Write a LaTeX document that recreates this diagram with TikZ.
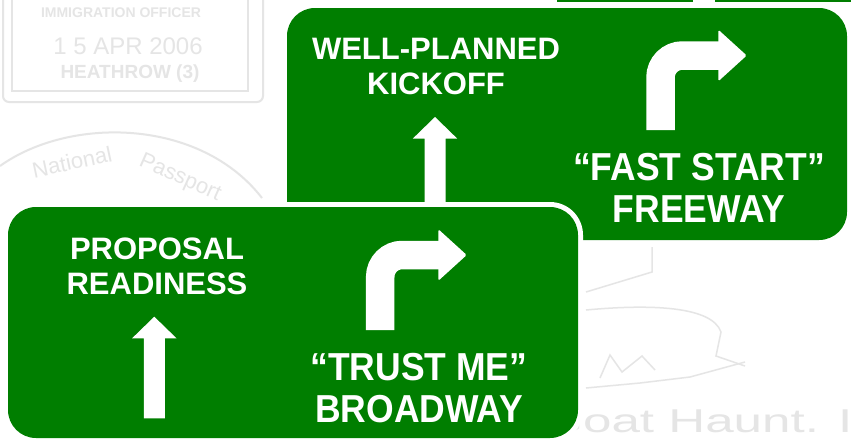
\documentclass[tikz,border=0pt]{standalone}
\usepackage{fontspec}
\setmainfont{Liberation Sans}
\newfontfamily\signnarrow{Liberation Sans}[FakeStretch=0.91]
\definecolor{signgreen}{RGB}{0,126,0}
\definecolor{stampgray}{RGB}{229,229,229}
\tikzset{
  signbody/.style={fill=signgreen, rounded corners=28pt},
  signrim/.style={fill=white, rounded corners=33pt},
  leftlabel/.style={text=white, align=center, inner sep=0pt,
    font=\fontsize{31}{35}\selectfont\bfseries},
  rightlabel/.style={text=white, align=center, inner sep=0pt,
    font=\signnarrow\fontsize{39}{41.5}\selectfont\bfseries},
  turnshaft/.style={draw=white, line width=28.5pt, rounded corners=22pt},
  arrowfill/.style={fill=white},
  stampline/.style={draw=stampgray, line width=2pt},
  stamptext/.style={text=stampgray, inner sep=0pt},
}
\begin{document}
\begin{tikzpicture}[x=1pt, y=-1pt]
\useasboundingbox (0,0) rectangle (851,440);
\clip (0,0) rectangle (851,440);
\fill[white] (0,0) rectangle (851,440);

% faint passport stamps in the background
\draw[stampline, rounded corners=6pt] (3,-12) rectangle (263,102);
\draw[stampline, line width=1.5pt] (12,-12) rectangle (248,91);
\node[stamptext, font=\bfseries\fontsize{14}{14}\selectfont] (office) at (121,13) {IMMIGRATION OFFICER};
\node[stamptext, font=\fontsize{24}{24}\selectfont] (date) at (128,46) {1 5 APR 2006};
\node[stamptext, font=\bfseries\fontsize{19}{19}\selectfont] (port) at (130,74) {HEATHROW (3)};
\draw[stampline] (0,166) .. controls (70,116) and (200,118) .. (262,198);
\node[stamptext, font=\fontsize{22}{22}\selectfont, rotate=12] (national) at (72,162) {National};
\node[stamptext, font=\fontsize{22}{22}\selectfont, rotate=-24] (passport) at (180,178) {Passport};
\draw[stampline, line width=1.5pt] (652,247) -- (652,272) -- (586,292);
\draw[stampline, line width=1.5pt] (586,310) .. controls (650,304) and (712,306) .. (721,332) -- (716,356) -- (745,366);
\draw[stampline, line width=1.5pt] (586,388) -- (640,383) -- (690,377) -- (745,362);
\draw[stampline, line width=1.5pt] (600,378) -- (610,355) -- (622,372) -- (642,356) -- (655,370);
\node[stamptext, anchor=base west, xscale=1.55, font=\fontsize{33}{33}\selectfont] (goat) at (543,432) {Goat Haunt. I};

% third sign, mostly above the picture
\fill[white] (552,-300) rectangle (900,7);
\fill[signgreen] (557,-300) rectangle (900,2);
\fill[arrowfill] (693,-300) rectangle (715,2);

% upper sign
\begin{scope}[shift={(287,8)}]
  \fill[signrim] (-5,-5) rectangle (565,237);
  \fill[signbody] (0,0) rectangle (560,232);
  \fill[arrowfill] (148,109) -- (170.2,130.6) -- (158.5,130.6) -- (158.5,240)
    -- (137.5,240) -- (137.5,130.6) -- (125.8,130.6) -- cycle;
  \draw[turnshaft] (373.5,122) -- (373.5,47.5) -- (432,47.5);
  \fill[arrowfill, rounded corners=1.5pt] (431.3,21.7) -- (459.7,47.5) -- (431.3,73.3) -- cycle;
  \node[leftlabel] (kickoff) at (149,58.5) {WELL-PLANNED\\KICKOFF};
  \node[rightlabel] (faststart) at (412,180) {“FAST START”\\FREEWAY};
\end{scope}

% lower sign
\begin{scope}[shift={(8,207)}]
  \fill[signrim] (-5,-5) rectangle (575,236);
  \fill[signbody] (0,0) rectangle (570,231);
  \fill[arrowfill] (146.3,109.7) -- (168.5,131.3) -- (156.8,131.3) -- (156.8,211.3)
    -- (135.8,211.3) -- (135.8,131.3) -- (124.1,131.3) -- cycle;
  \draw[turnshaft] (372.2,123) -- (372.2,48) -- (431,48);
  \fill[arrowfill, rounded corners=1.5pt] (430.3,22.2) -- (458.7,48) -- (430.3,73.8) -- cycle;
  \node[leftlabel] (proposal) at (149,59.5) {PROPOSAL\\READINESS};
  \node[rightlabel] (trustme) at (411,181) {“TRUST ME”\\BROADWAY};
\end{scope}
\end{tikzpicture}
\end{document}
